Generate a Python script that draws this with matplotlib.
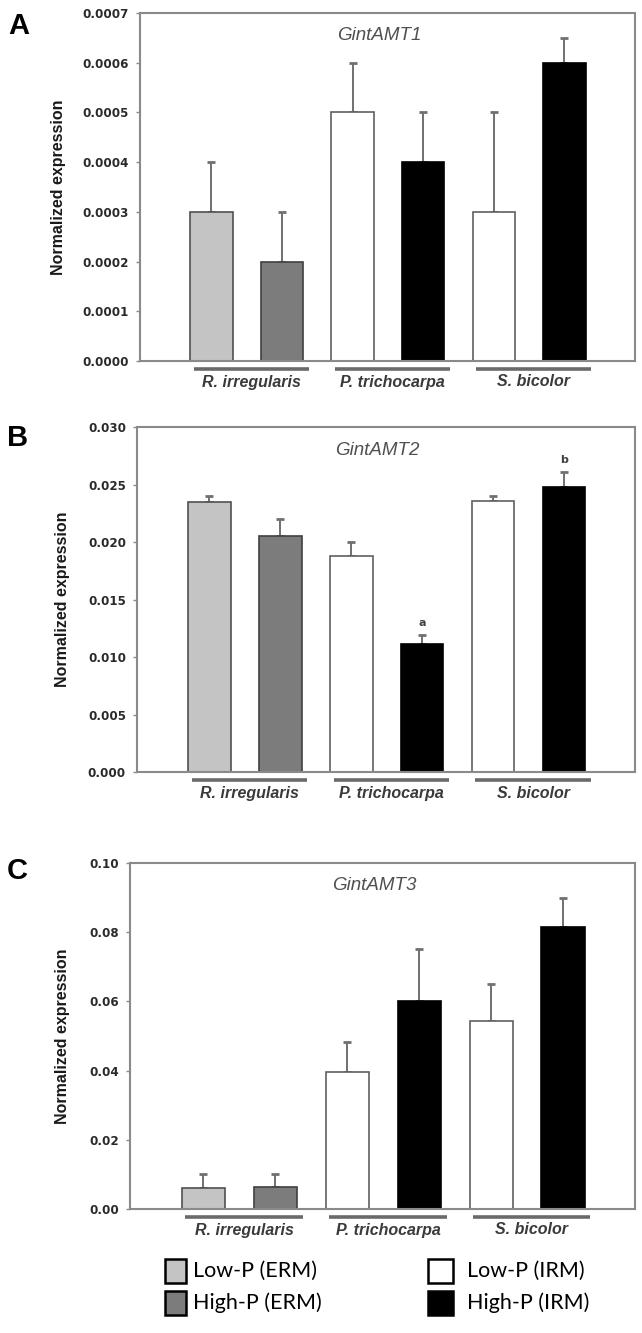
import numpy as np
import matplotlib
matplotlib.use('Agg')
import matplotlib.pyplot as plt
from matplotlib.patches import Rectangle
from matplotlib.ticker import FormatStrFormatter

# data
species = ['R. irregularis', 'P. trichocarpa', 'S. bicolor']
conditions = ['Low-P (ERM)', 'High-P (ERM)', 'Low-P (IRM)', 'High-P (IRM)',
              'Low-P (IRM)', 'High-P (IRM)']

amt1_mean = [0.0003, 0.0002, 0.0005, 0.0004, 0.0003, 0.0006]
amt1_err = [0.0001, 0.0001, 0.0001, 0.0001, 0.0002, 0.00005]

amt2_mean = [0.0235, 0.0205, 0.0188, 0.0111, 0.0236, 0.0248]
amt2_err = [0.0005, 0.0015, 0.0012, 0.0008, 0.0004, 0.0013]
amt2_letters = ['', '', '', 'a', '', 'b']

amt3_mean = [0.0060, 0.0065, 0.0395, 0.0602, 0.0543, 0.0814]
amt3_err = [0.0040, 0.0035, 0.0088, 0.0149, 0.0106, 0.0086]

genes = ['GintAMT1', 'GintAMT2', 'GintAMT3']
panel_letters = ['A', 'B', 'C']

fill_colors = ['#c4c4c4', '#7c7c7c', 'white', 'black', 'white', 'black']
edge_colors = ['#505050', '#404040', '#606060', 'black', '#606060', 'black']
legend_colors = ['#c4c4c4', '#7c7c7c', 'white', 'black']
legend_labels = ['Low-P (ERM)', 'High-P (ERM)', 'Low-P (IRM)', 'High-P (IRM)']

W, H = 642, 1333
fig = plt.figure(figsize=(W / 100, H / 100), dpi=100)

# axes boxes in pixels: left, right, top, bottom
boxes = [(139.5, 635, 13, 361), (137, 635, 427, 772), (130, 635, 863, 1209)]
ylims = [0.0007, 0.030, 0.10]
ysteps = [0.0001, 0.005, 0.02]
fmts = ['%.4f', '%.3f', '%.2f']
means = [amt1_mean, amt2_mean, amt3_mean]
errs = [amt1_err, amt2_err, amt3_err]
letter_pos = [(19, 26), (18, 438), (17, 871)]
ylabel_x = [66, 70, 70]

frame_col = '#8a8a8a'
x = np.arange(len(conditions))

for i in range(3):
    l, r, t, b = boxes[i]
    ax = fig.add_axes([l / W, 1 - b / H, (r - l) / W, (b - t) / H])
    m = np.array(means[i])
    e = np.array(errs[i])
    ax.errorbar(x, m, yerr=[np.zeros_like(e), e], fmt='none', ecolor='#707070',
                elinewidth=1.4, capsize=3.0, capthick=2.0, zorder=1)
    ax.bar(x, m, width=0.6, color=fill_colors, edgecolor=edge_colors,
           linewidth=1.2, zorder=2)
    ax.set_xlim(-1.02, 6.0)
    ax.set_ylim(0, ylims[i])
    ax.set_yticks(np.arange(0, ylims[i] + ysteps[i] / 2, ysteps[i]))
    ax.yaxis.set_major_formatter(FormatStrFormatter(fmts[i]))
    ax.set_xticks([])
    ax.tick_params(axis='y', direction='out', length=3, width=1, color=frame_col,
                   pad=5, labelsize=8.6, labelcolor='#2a2a2a')
    for lab in ax.get_yticklabels():
        lab.set_fontweight('bold')
        lab.set_family('DejaVu Sans')
    for sp in ax.spines.values():
        sp.set_color(frame_col)
        sp.set_linewidth(1.5)

    ax.set_ylabel('Normalized expression', fontsize=11.5, fontweight='bold',
                  family='Liberation Sans', color='#1a1a1a')
    ax.yaxis.set_label_coords(ylabel_x[i] / W, 1 - (t + b) / 2 / H,
                              transform=fig.transFigure)

    ax.text(0.483, 1 - 23 / (b - t), genes[i], transform=ax.transAxes,
            ha='center', va='center', fontsize=13.5, style='italic',
            family='Liberation Sans', color='#505050')

    # species group lines and labels under the axis
    tr = ax.get_xaxis_transform()
    for g, name in enumerate(species):
        x0 = x[2 * g] - 0.25
        x1 = x[2 * g + 1] + 0.38
        ax.plot([x0, x1], [-8 / (b - t)] * 2, transform=tr, color='#6a6a6a',
                lw=2.6, clip_on=False, solid_capstyle='butt')
        ax.text((x0 + x1) / 2, -21 / (b - t), name, transform=tr, ha='center',
                va='center', fontsize=11.5, fontweight='bold', style='italic',
                family='Liberation Sans', color='#3a3a3a')

    if i == 1:
        for xi, mi, ei, s in zip(x, m, e, amt2_letters):
            if s:
                ax.annotate(s, (xi, mi + ei), xytext=(0, 5), textcoords='offset points',
                            ha='center', va='bottom', fontsize=8, fontweight='bold',
                            color='#404040')

    fig.text(letter_pos[i][0] / W, 1 - letter_pos[i][1] / H, panel_letters[i],
             fontsize=21, fontweight='bold', family='Liberation Sans',
             ha='center', va='center')

# legend at the bottom
leg_boxes = [(165, 1259, 21), (165, 1291, 21), (428, 1259, 25), (428, 1291, 25)]
leg_text_x = [193, 193, 467, 467]
for (bx, by, bw), col, lab, tx in zip(leg_boxes, legend_colors, legend_labels, leg_text_x):
    fig.add_artist(Rectangle((bx / W, 1 - (by + 24) / H), bw / W, 24 / H,
                             transform=fig.transFigure, facecolor=col,
                             edgecolor='black', linewidth=1.8))
    fig.text(tx / W, 1 - (by + 12) / H, lab, fontsize=15.5, family='Lato',
             ha='left', va='center', color='black')

fig.savefig('out.png', dpi=100)
